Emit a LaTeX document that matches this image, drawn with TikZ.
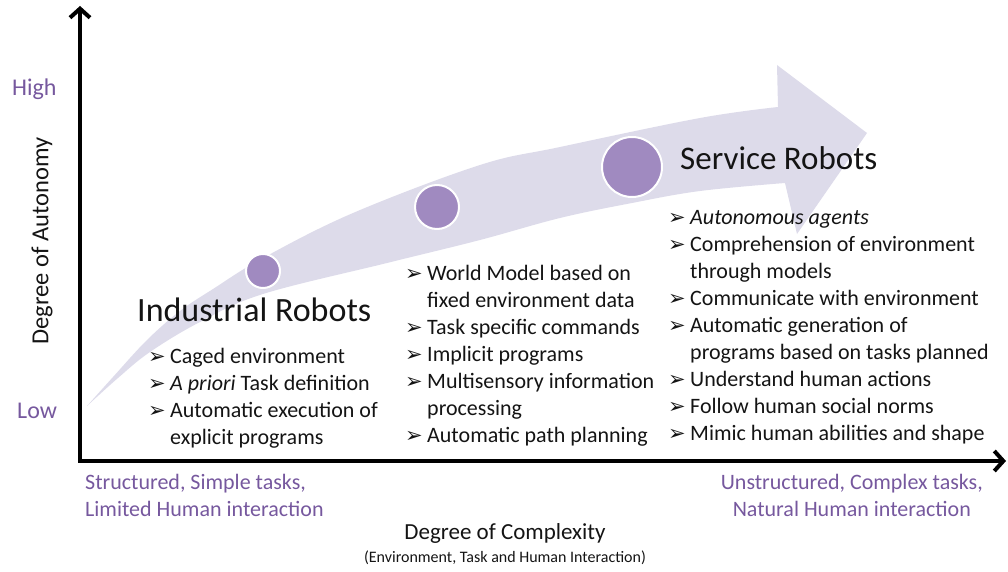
\documentclass[tikz,border=0pt]{standalone}
\usepackage{fontspec}
\setmainfont{Carlito}
\newfontfamily\dejavu{DejaVu Sans}
\usetikzlibrary{arrows.meta}
\definecolor{bandcol}{RGB}{221,219,234}
\definecolor{dotcol}{RGB}{160,138,192}
\definecolor{purptext}{RGB}{118,88,158}
\definecolor{inkcol}{RGB}{20,20,20}
\newcommand\bul{\makebox[22pt][l]{\raisebox{-0.5pt}{\fontsize{21pt}{21pt}\dejavu\char"27A2}}}
\newcommand\cnt{\hspace*{22pt}}
\tikzset{
  listtext/.style={inner sep=0pt, anchor=base west, text=inkcol, font=\fontsize{22pt}{27pt}\selectfont},
  titletext/.style={inner sep=0pt, anchor=base west, text=inkcol},
  purp/.style={inner sep=0pt, text=purptext, font=\fontsize{22pt}{27pt}\selectfont},
  axlabel/.style={inner sep=0pt, text=inkcol, font=\fontsize{23pt}{27pt}\selectfont},
  dot/.style={circle, fill=dotcol, draw=white, line width=2pt, inner sep=0pt},
  axis/.style={line width=4pt, draw=black, {Straight Barb[length=9pt,width=20pt]}-{Straight Barb[length=9pt,width=20pt]}}
}
\begin{document}
\begin{tikzpicture}[x=1pt,y=-1pt]
\useasboundingbox (0,0) rectangle (1008,572);

% curved band arrow
\fill[bandcol] plot[smooth,tension=0.6] coordinates {(87,406) (113,377) (147,340) (180,311) (213,289) (263,258) (353,213) (480,165) (560,147) (700,118) (778,107)}
  -- (777,65) -- (867,133) -- (797,234) -- (785,183)
  -- plot[smooth,tension=0.6] coordinates {(785,183) (700,191) (632,203) (560,218) (480,240) (387,263) (263,294) (200,322) (150,352) (118,378) (87,406)} -- cycle;

% dots
\node[dot, minimum size=34pt] (c1) at (263,271) {};
\node[dot, minimum size=44pt] (c2) at (437,207) {};
\node[dot, minimum size=60pt] (c3) at (632,167) {};

% axes
\coordinate (ytip) at (80,6);
\coordinate (orig) at (80,461);
\coordinate (xtip) at (1006,461);
\draw[axis] (ytip) -- (orig) -- (xtip);

% axis labels
\node[purp, anchor=base west, font=\fontsize{24pt}{27pt}\selectfont] (high) at (12,96) {High};
\node[purp, anchor=base west, font=\fontsize{24pt}{27pt}\selectfont] (low) at (17,418) {Low};
\node[axlabel, rotate=90, font=\fontsize{24.5pt}{27pt}\selectfont] (ylab) at (42,241) {Degree of Autonomy};

\node[purp, anchor=base west] (left) at (85,489) {\begin{tabular}[t]{@{}l@{}}Structured, Simple tasks,\\Limited Human interaction\end{tabular}};
\node[purp, anchor=base east] (right) at (983,489) {\begin{tabular}[t]{@{}c@{}}Unstructured, Complex tasks,\\Natural Human interaction\end{tabular}};
\node[axlabel, anchor=base] (xlab) at (505,539) {Degree of Complexity};
\node[inner sep=0pt, anchor=base, text=inkcol, font=\fontsize{16pt}{18pt}\selectfont] (xsub) at (505,562) {(Environment, Task and Human Interaction)};

% titles
\node[titletext, font=\fontsize{34pt}{40pt}\selectfont] (ind) at (137,321) {Industrial Robots};
\node[titletext, font=\fontsize{33pt}{40pt}\selectfont] (serv) at (680,169) {Service Robots};

% lists
\node[listtext] (l1) at (148,363) {\begin{tabular}[t]{@{}l@{}}
\bul Caged environment\\
\bul\textit{A priori} Task definition\\
\bul Automatic execution of\\
\cnt explicit programs
\end{tabular}};

\node[listtext] (l2) at (405,280) {\begin{tabular}[t]{@{}l@{}}
\bul World Model based on\\
\cnt fixed environment data\\
\bul Task specific commands\\
\bul Implicit programs\\
\bul Multisensory information\\
\cnt processing\\
\bul Automatic path planning
\end{tabular}};

\node[listtext] (l3) at (668,224) {\begin{tabular}[t]{@{}l@{}}
\bul\textit{Autonomous agents}\\
\bul Comprehension of environment\\
\cnt through models\\
\bul Communicate with environment\\
\bul Automatic generation of\\
\cnt programs based on tasks planned\\
\bul Understand human actions\\
\bul Follow human social norms\\
\bul Mimic human abilities and shape
\end{tabular}};
\end{tikzpicture}
\end{document}
